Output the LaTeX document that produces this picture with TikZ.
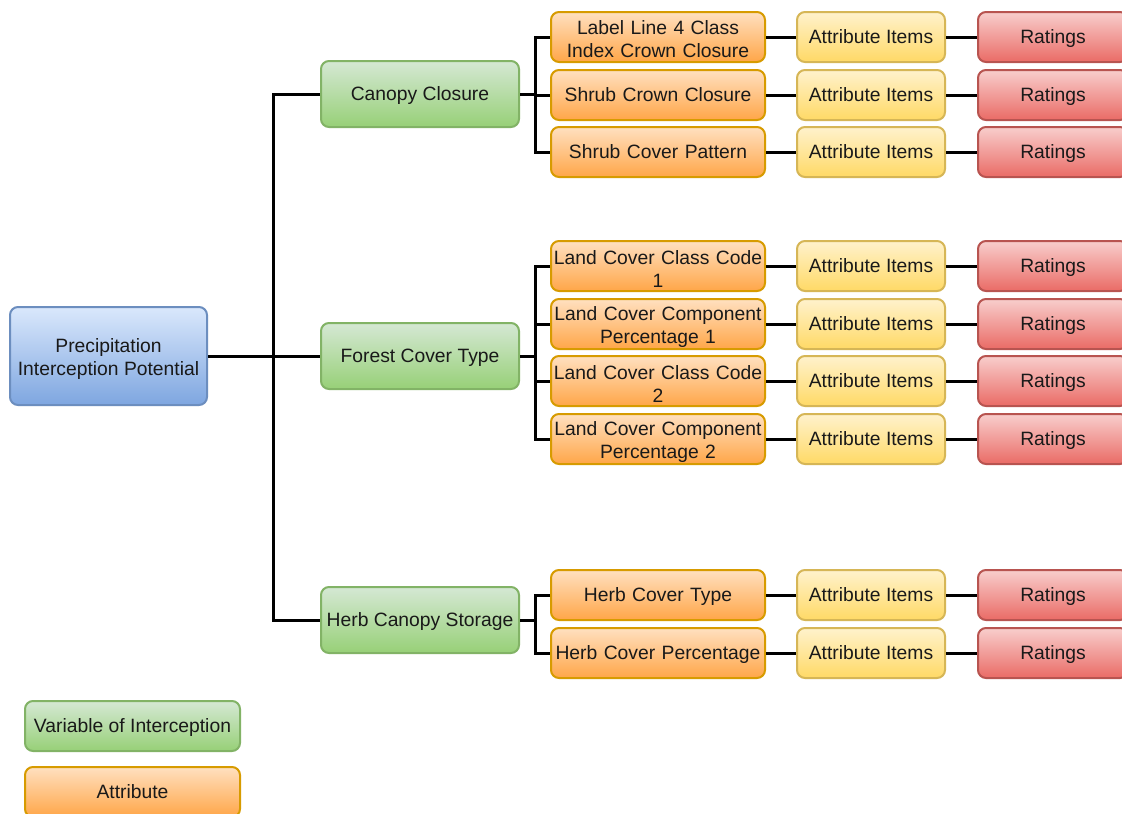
\documentclass[tikz,border=0pt]{standalone}
\usepackage{fontspec}
\setmainfont{Liberation Sans}
\newcommand\tallfirst{\rule{0pt}{19pt}}
\begin{document}
\begin{tikzpicture}[x=1pt,y=-1pt,
  box/.style={rectangle,rounded corners=8pt,draw,line width=2pt,align=center,inner sep=0pt,
    font=\fontsize{19.3}{23}\selectfont,text=black!90},
  one/.style={text height=14pt,text depth=1pt},
  rootbox/.style={box,minimum width=197pt,minimum height=98pt,top color=blueT,bottom color=blueB,draw=blueS},
  varbox/.style={box,one,minimum width=198pt,minimum height=66pt,top color=greenT,bottom color=greenB,draw=greenS},
  attbox/.style={box,minimum width=214pt,minimum height=50pt,text width=213pt,top color=oraT,bottom color=oraB,draw=oraS},
  itembox/.style={box,one,minimum width=148pt,minimum height=50pt,top color=yelT,bottom color=yelB,draw=yelS},
  ratebox/.style={box,one,minimum width=150pt,minimum height=50pt,top color=redT,bottom color=redB,draw=redS},
  conn/.style={line width=3pt,black}]
\definecolor{blueT}{HTML}{DAE8FC}\definecolor{blueB}{HTML}{7EA6E0}\definecolor{blueS}{HTML}{6C8EBF}
\definecolor{greenT}{HTML}{D5E8D4}\definecolor{greenB}{HTML}{97D077}\definecolor{greenS}{HTML}{82B366}
\definecolor{oraT}{HTML}{FFE0C0}\definecolor{oraB}{HTML}{FFA648}\definecolor{oraS}{HTML}{D79B00}
\definecolor{yelT}{HTML}{FFF2CC}\definecolor{yelB}{HTML}{FFD966}\definecolor{yelS}{HTML}{D6B656}
\definecolor{redT}{HTML}{F8CECC}\definecolor{redB}{HTML}{EA6B66}\definecolor{redS}{HTML}{B85450}
\useasboundingbox (0,0) rectangle (1122,814);
\fill[white] (0,0) rectangle (1122,814);
\begin{scope}
\clip (0,0) rectangle (1122,814);
% root
\node[rootbox] (root) at (108.5,356) {\tallfirst Precipitation\\Interception Potential};
% variables
\node[varbox] (cc) at (420,94) {Canopy Closure};
\node[varbox] (fc) at (420,356) {Forest Cover Type};
\node[varbox] (hc) at (420,620) {Herb Canopy Storage};
% attributes
\node[attbox] (a1) at (658,37) {\tallfirst Label Line 4 Class\\Index Crown Closure};
\node[attbox,one] (a2) at (658,95) {Shrub Crown Closure};
\node[attbox,one] (a3) at (658,152) {Shrub Cover Pattern};
\node[attbox] (a4) at (658,266) {\tallfirst Land Cover Class Code\\1};
\node[attbox] (a5) at (658,324) {\tallfirst Land Cover Component\\Percentage 1};
\node[attbox] (a6) at (658,381) {\tallfirst Land Cover Class Code\\2};
\node[attbox] (a7) at (658,439) {\tallfirst Land Cover Component\\Percentage 2};
\node[attbox,one] (a8) at (658,595) {Herb Cover Type};
\node[attbox,one] (a9) at (658,653) {Herb Cover Percentage};
% items and ratings
\foreach \i/\y in {1/37,2/95,3/152,4/266,5/324,6/381,7/439,8/595,9/653}{
  \node[itembox] (i\i) at (871,\y) {Attribute Items};
  \node[ratebox] (r\i) at (1053,\y) {Ratings};
  \draw[conn] (a\i.east) -- (i\i.west);
  \draw[conn] (i\i.east) -- (r\i.west);
}
% legend
\node[varbox,minimum width=215pt,minimum height=50pt] (lg1) at (132.5,726) {Variable of Interception};
\node[attbox,one,minimum width=215pt,text width=213pt] (lg2) at (132.5,792) {Attribute};
% trunk
\coordinate (t) at (273,356);
\draw[conn] (root.east) -- (fc.west);
\draw[conn] (cc.west) -| (t) |- (hc.west);
% branches
\coordinate (b1) at (535,94);
\coordinate (b2) at (535,356);
\coordinate (b3) at (535,620);
\draw[conn] (cc.east) -- (b1);
\draw[conn] (a1.west) -| (b1) |- (a3.west);
\draw[conn] (b1) |- (a2.west);
\draw[conn] (fc.east) -- (b2);
\draw[conn] (a4.west) -| (b2) |- (a7.west);
\draw[conn] (b2) |- (a5.west);
\draw[conn] (b2) |- (a6.west);
\draw[conn] (hc.east) -- (b3);
\draw[conn] (a8.west) -| (b3) |- (a9.west);
\end{scope}
\end{tikzpicture}
\end{document}
